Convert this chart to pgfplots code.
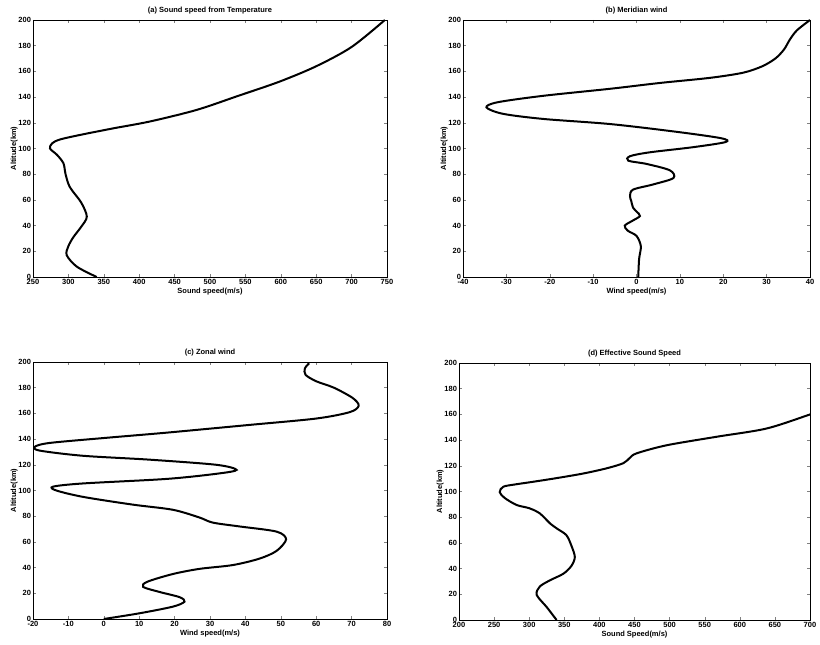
\documentclass[border=0pt]{standalone}
\usepackage{pgfplots}
\pgfplotsset{compat=1.18}
\usepackage{fontspec}
\setmainfont{Liberation Sans}
\newcommand{\sm}{\fontsize{7.5}{8}\selectfont\bfseries}
\pgfplotsset{
  every axis/.append style={
    scale only axis,
    anchor=south west,
    height=257pt,
    ymin=0, ymax=200,
    ytick={0,20,...,200},
    tick align=inside,
    major tick length=3pt,
    axis line style={line width=0.5pt},
    tick style={line width=0.4pt},
    /pgf/number format/assume math mode=true,
    tick label style={font=\sm},
    label style={font=\sm},
    title style={font=\sm, yshift=-4pt},
    xlabel style={yshift=3pt},
    ylabel style={yshift=-6pt},
    ylabel={Altitude(km)},
    xticklabel style={yshift=1.5pt},
    yticklabel style={xshift=1.5pt},
  },
  curve/.style={black, line width=2pt, smooth, tension=0.5, no markers},
}
\begin{document}
\begin{tikzpicture}[x=1pt,y=1pt]
\path (0,0) rectangle (820,645);
% (a)
\begin{axis}[at={(33pt,368pt)}, width=354pt,
  xmin=250, xmax=750, xtick={250,300,...,750},
  title={(a) Sound speed from Temperature}, xlabel={Sound speed(m/s)}]
\addplot[curve] coordinates {
(340,0) (312,8) (297.6,17) (300,24) (307,31) (318,39) (326,47) (318,58) (302,70)
(296,80) (293,88.5) (284,95) (274,100) (277,104) (288,107) (316,110.5) (363.6,115.7)
(415,121) (481,130) (540,141) (598,152) (650,164) (700,179) (747,200)};
\end{axis}
% (b)
\begin{axis}[at={(463pt,368pt)}, width=347pt,
  xmin=-40, xmax=40, xtick={-40,-30,...,40},
  title={(b) Meridian wind}, xlabel={Wind speed(m/s)}]
\addplot[curve] coordinates {
(0.4,0) (0.6,14) (1,24) (0,32) (-2,36) (-2.7,40) (-0.8,44) (0.8,47.5) (0,51)
(-0.8,54) (-1.2,59) (-1.5,63) (-0.8,68) (3.8,72) (8.5,77) (7.7,83) (2.3,88)
(-1.9,90.5) (-1.5,94) (3,97) (13,101) (20.5,105) (19.5,108) (9.2,113) (-6,119)
(-21.5,123) (-30.8,127) (-34.6,132) (-32,136) (-21.5,141) (-6,146.5) (5.4,151)
(17,155) (24.6,159) (29,164) (32,170) (34,177) (35.4,185) (37,192) (40,200)};
\end{axis}
% (c)
\begin{axis}[at={(33pt,26pt)}, width=354pt,
  xmin=-20, xmax=80, xtick={-20,-10,...,80},
  title={(c) Zonal wind}, xlabel={Wind speed(m/s)}]
\addplot[curve] coordinates {
(0,0) (10,4.4) (19.5,9.6) (22.8,13.5) (21.4,17) (15.8,21) (11.1,25) (12.3,29)
(19.5,35) (27,39) (36.5,42) (44,47) (48.8,53) (51.5,62) (48.8,68) (38.4,72)
(30.8,75) (27,79) (19.5,85) (8.2,89) (-5.8,95) (-13.4,100) (-14.3,103)
(-5.8,105.5) (17.7,109) (31.8,113) (37.5,116) (31.8,120) (12.9,124) (-5.8,127)
(-18,131) (-19.5,134) (-15.3,137) (0.7,141) (17.7,145) (41,151) (60,156)
(69.5,161) (72,166) (70.3,172) (65,180) (60,185) (57,190) (56.8,195) (58,199)};
\end{axis}
% (d)
\begin{axis}[at={(459pt,25pt)}, width=351pt,
  xmin=200, xmax=700, xtick={200,250,...,700},
  title={(d) Effective Sound Speed}, xlabel={Sound Speed(m/s)}]
\addplot[curve] coordinates {
(339,0) (325,10) (310.7,19.5) (315,26) (330,31) (348.6,36) (360,42) (365,49)
(360,58) (353,66) (340,71) (330,75) (315,83) (300,87) (282,89.5) (265,95)
(258,99.5) (263,103.7) (280,105.5) (306,107.6) (340,110.5) (377,114) (410,118)
(434,122) (443,126) (453,129.7) (496,136) (567,142.6) (638,149) (697.6,159.5)
(700,160)};
\end{axis}
\end{tikzpicture}
\end{document}
